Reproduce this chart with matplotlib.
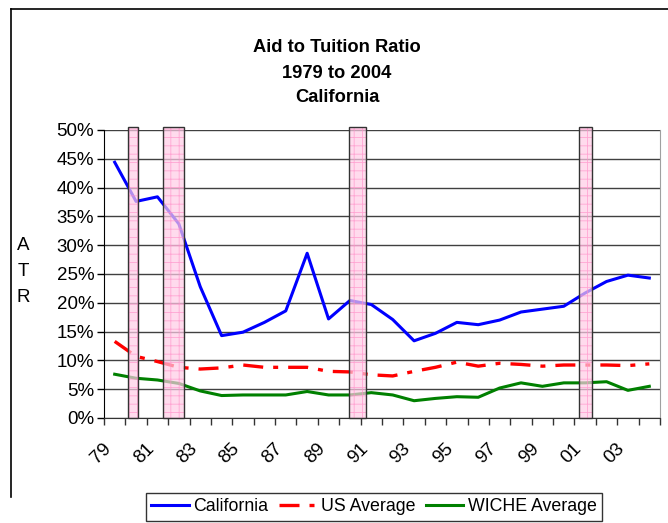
import matplotlib
matplotlib.use('Agg')
import matplotlib.pyplot as plt
import matplotlib.transforms as mtransforms
from matplotlib.lines import Line2D

plt.rcParams['font.family'] = ['Liberation Sans', 'DejaVu Sans']
plt.rcParams['hatch.linewidth'] = 0.6

# data
years = ['79', '80', '81', '82', '83', '84', '85', '86', '87', '88', '89', '90', '91',
         '92', '93', '94', '95', '96', '97', '98', '99', '00', '01', '02', '03', '04']
california = [44.4, 37.6, 38.4, 33.7, 22.8, 14.3, 14.9, 16.6, 18.6, 28.6, 17.2, 20.4, 19.7,
              17.1, 13.4, 14.7, 16.6, 16.2, 17.0, 18.4, 18.9, 19.4, 21.7, 23.7, 24.8, 24.3]
us_average = [13.3, 10.7, 9.8, 8.8, 8.5, 8.7, 9.2, 8.8, 8.8, 8.8, 8.1, 8.0, 7.5,
              7.3, 8.1, 8.8, 9.7, 9.0, 9.5, 9.3, 9.0, 9.2, 9.2, 9.2, 9.1, 9.4]
wiche_average = [7.6, 6.9, 6.6, 6.0, 4.7, 3.9, 4.0, 4.0, 4.0, 4.6, 4.0, 4.0, 4.4,
                 4.0, 3.0, 3.4, 3.7, 3.6, 5.2, 6.1, 5.5, 6.1, 6.1, 6.3, 4.8, 5.5]
# recession periods (fractional years)
rec_start = [1979.62, 1981.26, 1989.97, 2000.73]
rec_end = [1980.09, 1982.24, 1990.74, 2001.33]

fig = plt.figure(figsize=(6.68, 5.23), dpi=100)
ax = fig.add_axes([104 / 668, 1 - 418 / 523, 556 / 668, 288 / 523])

x = [i + 0.5 for i in range(len(years))]
ax.plot(x, california, color='#0000ff', lw=2.2, label='California', zorder=3)
ax.plot(x, us_average, color='#ff0000', lw=2.4, ls=(0, (6, 3, 1.5, 3)),
        label='US Average', zorder=3)
ax.plot(x, wiche_average, color='#008000', lw=2.2, label='WICHE Average', zorder=3)

# recession bars
for s, e in zip(rec_start, rec_end):
    x0 = s - 1979 + 0.5
    w = e - s
    ax.bar(x0, 50.5, width=w, align='edge', bottom=0, color='#ffcce6', alpha=0.7,
           hatch='++', edgecolor='#ff8fc8', linewidth=0, zorder=4, clip_on=False)
    ax.bar(x0, 50.5, width=w, align='edge', bottom=0, fill=False,
           edgecolor='#333333', linewidth=1.0, zorder=5, clip_on=False)

ax.set_xlim(0, len(years))
ax.set_ylim(0, 50)
ax.set_yticks(range(0, 51, 5))
ax.set_yticklabels([f'{v}%' for v in range(0, 51, 5)], fontsize=13.5)
ax.yaxis.grid(True, color='#404040', lw=1)
ax.set_axisbelow(True)

ax.set_xticks(range(len(years) + 1))
ax.set_xticklabels([])
ax.set_xticks(x[::2], minor=True)
ax.set_xticklabels(years[::2], minor=True, fontsize=13.5, rotation=45,
                   ha='right', va='top')
offset = mtransforms.ScaledTranslation(-13 / 100, 0, fig.dpi_scale_trans)
for lab in ax.get_xticklabels(minor=True):
    lab.set_transform(lab.get_transform() + offset)
ax.tick_params(axis='x', which='minor', length=0, pad=16)
ax.tick_params(axis='x', which='major', length=5, width=1, direction='out', color='#333333')
ax.tick_params(axis='y', length=5, width=1, direction='out', pad=2)

ax.spines['left'].set_color('black')
ax.spines['bottom'].set_color('#333333')
ax.spines['top'].set_visible(False)
ax.spines['right'].set_color('#a0a0a0')

fig.text(337 / 668, 1 - 47 / 523, 'Aid to Tuition Ratio', ha='center', va='center',
         fontsize=13.2, fontweight='bold')
fig.text(337 / 668, 1 - 73 / 523, '1979 to 2004', ha='center', va='center',
         fontsize=13.2, fontweight='bold')
fig.text(337 / 668, 1 - 98 / 523, 'California', ha='center', va='center',
         fontsize=13.2, fontweight='bold')

for ch, yy in zip(['A', 'T', 'R'], [245, 271, 297]):
    fig.text(23 / 668, 1 - yy / 523, ch, ha='center', va='center', fontsize=13.5)

# outer chart frame
fig.add_artist(Line2D([11 / 668, 1], [1 - 9 / 523, 1 - 9 / 523], color='black', lw=1.2))
fig.add_artist(Line2D([11 / 668, 11 / 668], [1 - 9 / 523, 1 - 497 / 523], color='black', lw=1.2))

leg = fig.legend(loc='upper left', bbox_to_anchor=(146 / 668, 1 - 493 / 523), ncol=3,
                 fontsize=12.8, frameon=True, fancybox=False, edgecolor='black',
                 handlelength=2.1, handletextpad=0.25, columnspacing=0.6,
                 borderpad=0.3, borderaxespad=0)
leg.get_frame().set_linewidth(1)

fig.savefig('out.png', dpi=100)
